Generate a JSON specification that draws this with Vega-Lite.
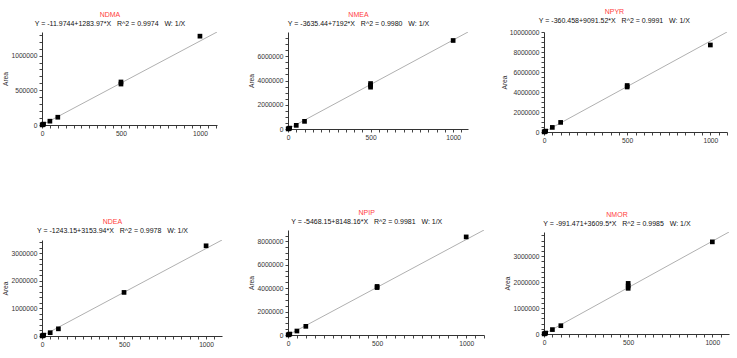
{
  "$schema": "https://vega.github.io/schema/vega-lite/v6.json",
  "background": "white",
  "padding": {"left": 2, "top": 8, "right": 5, "bottom": 2},
  "config": {
    "view": {"stroke": null},
    "axis": {
      "grid": false,
      "labelFont": "Liberation Sans",
      "labelFontSize": 6.7,
      "labelColor": "#333",
      "domainColor": "#333",
      "tickColor": "#444",
      "tickSize": 3,
      "labelPadding": 2,
      "titleFont": "Liberation Sans",
      "titleFontSize": 6.7,
      "titleFontWeight": "normal",
      "titleColor": "#333",
      "titlePadding": 2,
      "labelOverlap": false,
      "labelFlush": false,
      "format": "d"
    },
    "title": {
      "font": "Liberation Sans",
      "fontSize": 7,
      "fontWeight": "normal",
      "color": "#ff4040",
      "subtitleFont": "Liberation Sans",
      "subtitleFontSize": 7,
      "subtitleColor": "#111",
      "subtitlePadding": 2,
      "anchor": "middle",
      "frame": "bounds",
      "offset": 5
    }
  },
  "spacing": 16,
  "hconcat": [
    {
      "spacing": 26,
      "hconcat": [
        {
          "bounds": "flush",
          "spacing": 115,
          "vconcat": [
            {
              "width": 175, "height": 93,
              "title": {"text": "NDMA", "subtitle": "Y = -11.9744+1283.97*X\u00a0\u00a0\u00a0R^2 = 0.9974\u00a0\u00a0\u00a0W: 1/X"},
              "encoding": {
                "x": {"field": "conc", "type": "quantitative", "scale": {"domain": [0, 1108], "nice": false},
                  "axis": {"title": null, "values": [0,50,100,150,200,250,300,350,400,450,500,550,600,650,700,750,800,850,900,950,1000,1050,1100], "labelExpr": "datum.value % 500 === 0 ? datum.label : ''"}},
                "y": {"field": "area", "type": "quantitative", "scale": {"domain": [0, 1340000], "nice": false},
                  "axis": {"title": "Area", "values": [0,100000,200000,300000,400000,500000,600000,700000,800000,900000,1000000,1100000,1200000,1300000], "labelExpr": "datum.value % 500000 === 0 ? datum.label : ''"}}
              },
              "layer": [
                {"data": {"values": [{"conc": 0, "area": -12}, {"conc": 1108, "area": 1340000}]},
                 "mark": {"type": "line", "color": "#b0b0b0", "strokeWidth": 1, "clip": true}, "encoding": {}},
                {"data": {"values": [{"conc": 1, "area": 1300}, {"conc": 5, "area": 6400}, {"conc": 10, "area": 12800}, {"conc": 50, "area": 55000}, {"conc": 100, "area": 112000}, {"conc": 500, "area": 590000}, {"conc": 500, "area": 620000}, {"conc": 1000, "area": 1280000}]},
                 "mark": {"type": "point", "shape": "square", "filled": true, "color": "#000", "opacity": 1, "size": 22}}
              ]
            },
            {
              "width": 180, "height": 96,
              "title": {"text": "NDEA", "subtitle": "Y = -1243.15+3153.94*X\u00a0\u00a0\u00a0R^2 = 0.9978\u00a0\u00a0\u00a0W: 1/X"},
              "encoding": {
                "x": {"field": "conc", "type": "quantitative", "scale": {"domain": [0, 1097], "nice": false},
                  "axis": {"title": null, "values": [0,50,100,150,200,250,300,350,400,450,500,550,600,650,700,750,800,850,900,950,1000,1050], "labelExpr": "datum.value % 500 === 0 ? datum.label : ''"}},
                "y": {"field": "area", "type": "quantitative", "scale": {"domain": [0, 3480000], "nice": false},
                  "axis": {"title": "Area", "values": [0,200000,400000,600000,800000,1000000,1200000,1400000,1600000,1800000,2000000,2200000,2400000,2600000,2800000,3000000,3200000,3400000], "labelExpr": "datum.value % 1000000 === 0 ? datum.label : ''"}}
              },
              "layer": [
                {"data": {"values": [{"conc": 0, "area": -1243}, {"conc": 1097, "area": 3480000}]},
                 "mark": {"type": "line", "color": "#b0b0b0", "strokeWidth": 1, "clip": true}, "encoding": {}},
                {"data": {"values": [{"conc": 1, "area": 3100}, {"conc": 5, "area": 15800}, {"conc": 10, "area": 31500}, {"conc": 50, "area": 120000}, {"conc": 100, "area": 260000}, {"conc": 500, "area": 1580000}, {"conc": 1000, "area": 3270000}]},
                 "mark": {"type": "point", "shape": "square", "filled": true, "color": "#000", "opacity": 1, "size": 22}}
              ]
            }
          ]
        },
        {
          "bounds": "flush",
          "spacing": 101,
          "vconcat": [
            {
              "width": 180, "height": 97,
              "title": {"text": "NMEA", "subtitle": "Y = -3635.44+7192*X\u00a0\u00a0\u00a0R^2 = 0.9980\u00a0\u00a0\u00a0W: 1/X"},
              "encoding": {
                "x": {"field": "conc", "type": "quantitative", "scale": {"domain": [0, 1090], "nice": false},
                  "axis": {"title": null, "values": [0,50,100,150,200,250,300,350,400,450,500,550,600,650,700,750,800,850,900,950,1000,1050], "labelExpr": "datum.value % 500 === 0 ? datum.label : ''"}},
                "y": {"field": "area", "type": "quantitative", "scale": {"domain": [0, 8000000], "nice": false},
                  "axis": {"title": "Area", "values": [0,500000,1000000,1500000,2000000,2500000,3000000,3500000,4000000,4500000,5000000,5500000,6000000,6500000,7000000,7500000], "labelExpr": "datum.value % 2000000 === 0 ? datum.label : ''"}}
              },
              "layer": [
                {"data": {"values": [{"conc": 0, "area": -3635}, {"conc": 1090, "area": 8000000}]},
                 "mark": {"type": "line", "color": "#b0b0b0", "strokeWidth": 1, "clip": true}, "encoding": {}},
                {"data": {"values": [{"conc": 1, "area": 7200}, {"conc": 5, "area": 36000}, {"conc": 10, "area": 72000}, {"conc": 50, "area": 300000}, {"conc": 100, "area": 630000}, {"conc": 500, "area": 3450000}, {"conc": 500, "area": 3600000}, {"conc": 500, "area": 3750000}, {"conc": 1000, "area": 7300000}]},
                 "mark": {"type": "point", "shape": "square", "filled": true, "color": "#000", "opacity": 1, "size": 22}}
              ]
            },
            {
              "width": 196, "height": 105,
              "title": {"text": "NPIP", "subtitle": "Y = -5468.15+8148.16*X\u00a0\u00a0\u00a0R^2 = 0.9981\u00a0\u00a0\u00a0W: 1/X"},
              "encoding": {
                "x": {"field": "conc", "type": "quantitative", "scale": {"domain": [0, 1100], "nice": false},
                  "axis": {"title": null, "values": [0,50,100,150,200,250,300,350,400,450,500,550,600,650,700,750,800,850,900,950,1000,1050,1100], "labelExpr": "datum.value % 500 === 0 ? datum.label : ''"}},
                "y": {"field": "area", "type": "quantitative", "scale": {"domain": [0, 8970000], "nice": false},
                  "axis": {"title": "Area", "values": [0,500000,1000000,1500000,2000000,2500000,3000000,3500000,4000000,4500000,5000000,5500000,6000000,6500000,7000000,7500000,8000000,8500000], "labelExpr": "datum.value % 2000000 === 0 ? datum.label : ''"}}
              },
              "layer": [
                {"data": {"values": [{"conc": 0, "area": -5468}, {"conc": 1100, "area": 8970000}]},
                 "mark": {"type": "line", "color": "#b0b0b0", "strokeWidth": 1, "clip": true}, "encoding": {}},
                {"data": {"values": [{"conc": 1, "area": 8100}, {"conc": 5, "area": 40700}, {"conc": 10, "area": 81000}, {"conc": 50, "area": 340000}, {"conc": 100, "area": 740000}, {"conc": 500, "area": 4050000}, {"conc": 500, "area": 4150000}, {"conc": 1000, "area": 8380000}]},
                 "mark": {"type": "point", "shape": "square", "filled": true, "color": "#000", "opacity": 1, "size": 22}}
              ]
            }
          ]
        }
      ]
    },
    {
      "bounds": "flush",
      "spacing": 100,
      "vconcat": [
        {
          "width": 183, "height": 100,
          "title": {"text": "NPYR", "subtitle": "Y = -360.458+9091.52*X\u00a0\u00a0\u00a0R^2 = 0.9991\u00a0\u00a0\u00a0W: 1/X"},
          "encoding": {
            "x": {"field": "conc", "type": "quantitative", "scale": {"domain": [0, 1100], "nice": false},
              "axis": {"title": null, "values": [0,50,100,150,200,250,300,350,400,450,500,550,600,650,700,750,800,850,900,950,1000,1050,1100], "labelExpr": "datum.value % 500 === 0 ? datum.label : ''"}},
            "y": {"field": "area", "type": "quantitative", "scale": {"domain": [0, 10000000], "nice": false},
              "axis": {"title": "Area", "values": [0,500000,1000000,1500000,2000000,2500000,3000000,3500000,4000000,4500000,5000000,5500000,6000000,6500000,7000000,7500000,8000000,8500000,9000000,9500000,10000000], "labelExpr": "datum.value % 2000000 === 0 ? datum.label : ''"}}
          },
          "layer": [
            {"data": {"values": [{"conc": 0, "area": -360}, {"conc": 1100, "area": 10000000}]},
             "mark": {"type": "line", "color": "#b0b0b0", "strokeWidth": 1, "clip": true}, "encoding": {}},
            {"data": {"values": [{"conc": 1, "area": 9000}, {"conc": 5, "area": 45000}, {"conc": 10, "area": 90000}, {"conc": 50, "area": 460000}, {"conc": 100, "area": 960000}, {"conc": 500, "area": 4500000}, {"conc": 500, "area": 4650000}, {"conc": 1000, "area": 8700000}]},
             "mark": {"type": "point", "shape": "square", "filled": true, "color": "#000", "opacity": 1, "size": 22}}
          ]
        },
        {
          "width": 185, "height": 102,
          "title": {"text": "NMOR", "subtitle": "Y = -991.471+3609.5*X\u00a0\u00a0\u00a0R^2 = 0.9985\u00a0\u00a0\u00a0W: 1/X"},
          "encoding": {
            "x": {"field": "conc", "type": "quantitative", "scale": {"domain": [0, 1099], "nice": false},
              "axis": {"title": null, "values": [0,50,100,150,200,250,300,350,400,450,500,550,600,650,700,750,800,850,900,950,1000,1050], "labelExpr": "datum.value % 500 === 0 ? datum.label : ''"}},
            "y": {"field": "area", "type": "quantitative", "scale": {"domain": [0, 3930000], "nice": false},
              "axis": {"title": "Area", "values": [0,200000,400000,600000,800000,1000000,1200000,1400000,1600000,1800000,2000000,2200000,2400000,2600000,2800000,3000000,3200000,3400000,3600000,3800000], "labelExpr": "datum.value % 1000000 === 0 ? datum.label : ''"}}
          },
          "layer": [
            {"data": {"values": [{"conc": 0, "area": -991}, {"conc": 1099, "area": 3930000}]},
             "mark": {"type": "line", "color": "#b0b0b0", "strokeWidth": 1, "clip": true}, "encoding": {}},
            {"data": {"values": [{"conc": 1, "area": 3600}, {"conc": 5, "area": 18000}, {"conc": 10, "area": 36000}, {"conc": 50, "area": 170000}, {"conc": 100, "area": 320000}, {"conc": 500, "area": 1760000}, {"conc": 500, "area": 1850000}, {"conc": 500, "area": 1950000}, {"conc": 1000, "area": 3550000}]},
             "mark": {"type": "point", "shape": "square", "filled": true, "color": "#000", "opacity": 1, "size": 22}}
          ]
        }
      ]
    }
  ]
}
